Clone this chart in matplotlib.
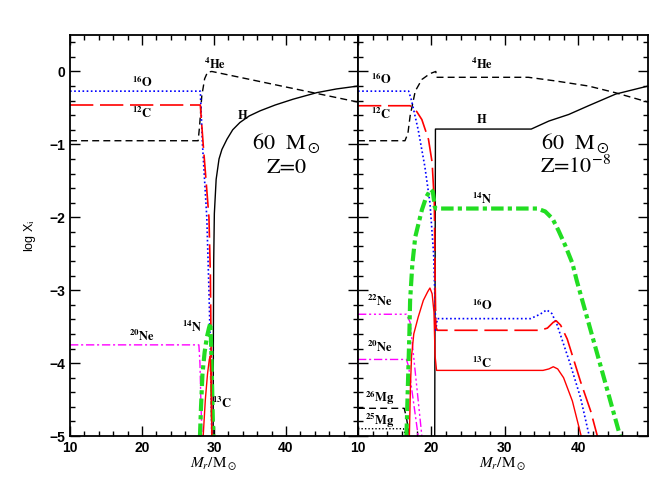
import numpy as np
import matplotlib
matplotlib.use('Agg')
import matplotlib.pyplot as plt
from matplotlib.ticker import MultipleLocator

plt.rcParams['mathtext.fontset'] = 'stix'

# ---- left panel: 60 Msun, Z=0 ----
L_he_x = [10, 27.8, 28.0, 28.3, 28.7, 29.1, 29.7, 50]
L_he_y = [-0.95, -0.95, -0.75, -0.34, -0.10, -0.01, 0.0, -0.42]
L_h_x = [29.88, 29.92, 29.96, 30.05, 30.3, 30.7, 31.1, 31.8, 32.6, 33.6, 34.9, 36.4, 38.5, 41.0, 44.3, 47.0, 50]
L_h_y = [-5.0, -3.5, -2.6, -1.95, -1.48, -1.2, -1.07, -0.93, -0.80, -0.70, -0.61, -0.54, -0.46, -0.38, -0.29, -0.24, -0.20]
L_o16_x = [10, 28.1, 28.4, 29.0, 29.3, 29.5, 29.7]
L_o16_y = [-0.27, -0.27, -1.0, -2.0, -3.0, -3.8, -5.0]
L_c12_x = [10, 28.1, 28.5, 29.3, 29.5, 29.6, 29.7]
L_c12_y = [-0.46, -0.46, -1.0, -2.0, -2.8, -3.8, -5.0]
L_c13_x = [28.5, 28.8, 29.1, 29.35, 29.5, 29.6, 29.7]
L_c13_y = [-5.0, -4.5, -4.15, -3.95, -3.9, -4.3, -5.0]
L_n14_x = [28.05, 28.2, 28.4, 28.7, 29.0, 29.3, 29.5, 29.65, 29.8, 29.9]
L_n14_y = [-5.0, -4.6, -4.15, -3.85, -3.65, -3.52, -3.45, -3.9, -4.6, -5.0]
L_ne20_x = [10, 27.9, 28.05, 28.2, 28.35]
L_ne20_y = [-3.75, -3.75, -4.0, -4.6, -5.0]

# ---- right panel: 60 Msun, Z=1e-8 ----
R_he_x = [10, 16.4, 16.8, 17.1, 17.8, 18.7, 19.8, 20.6, 20.7, 33.2, 36.9, 41.4, 45.0, 49.5]
R_he_y = [-0.95, -0.95, -0.85, -0.61, -0.27, -0.11, -0.03, 0.0, -0.08, -0.08, -0.13, -0.20, -0.29, -0.42]
R_h_x = [20.45, 20.55, 33.6, 36.0, 38.7, 41.4, 45.1, 49.5]
R_h_y = [-5.0, -0.79, -0.79, -0.68, -0.59, -0.47, -0.31, -0.20]
R_o16_x = [10, 16.9, 17.3, 18.2, 19.1, 19.8, 20.3, 20.45, 20.6, 20.8, 33.5, 34.8, 35.7, 36.4, 37.1, 38.9, 40.3, 41.5]
R_o16_y = [-0.27, -0.27, -0.40, -0.80, -1.30, -1.80, -2.50, -3.0, -3.55, -3.39, -3.39, -3.33, -3.27, -3.32, -3.47, -4.01, -4.47, -5.0]
R_c12_x = [10, 17.1, 18.0, 18.7, 19.6, 20.1, 20.4, 20.5, 20.6, 20.8, 34.8, 35.8, 36.6, 37.0, 37.6, 38.5, 40.3, 41.7, 42.6]
R_c12_y = [-0.47, -0.47, -0.55, -0.66, -0.93, -1.25, -1.8, -2.8, -3.5, -3.55, -3.55, -3.52, -3.44, -3.42, -3.48, -3.67, -4.25, -4.66, -5.0]
R_c13_x = [17.0, 17.15, 17.3, 17.6, 18.2, 18.9, 19.5, 19.8, 20.1, 20.35, 20.5, 20.7, 35.2, 36.0, 36.6, 37.2, 38.0, 39.2, 39.9, 40.4]
R_c13_y = [-5.0, -4.3, -3.9, -3.6, -3.37, -3.14, -3.02, -2.97, -3.05, -3.3, -3.9, -4.1, -4.1, -4.08, -4.05, -4.08, -4.2, -4.52, -4.8, -5.0]
R_n14_x = [16.6, 16.8, 17.0, 17.1, 17.4, 17.8, 18.7, 19.3, 19.9, 20.2, 20.45, 20.6, 34.4, 35.5, 36.5, 37.3, 38.2, 39.2, 39.8, 42.8, 45.7]
R_n14_y = [-5.0, -4.3, -3.6, -3.14, -2.65, -2.27, -1.9, -1.72, -1.62, -1.65, -1.85, -1.88, -1.88, -1.92, -2.02, -2.18, -2.38, -2.63, -2.87, -3.95, -5.0]
R_ne22_x = [10, 16.6, 17.1, 18.7]
R_ne22_y = [-3.33, -3.33, -3.44, -5.0]
R_ne20_x = [10, 16.6, 16.9, 18.2]
R_ne20_y = [-3.95, -3.95, -4.05, -5.0]
R_mg26_x = [10, 16.3, 16.6, 17.0]
R_mg26_y = [-4.62, -4.62, -4.75, -5.0]
R_mg25_x = [10, 16.2, 16.5]
R_mg25_y = [-4.9, -4.9, -5.0]

green = '#22dd22'

fig = plt.figure(figsize=(6.56, 4.91), dpi=100)
axL = fig.add_axes([0.1067, 0.112, 0.439, 0.8167])
axR = fig.add_axes([0.5457, 0.112, 0.4421, 0.8167])

def style(ax, xmax, ylabels):
    ax.set_xlim(10, xmax)
    ax.set_ylim(-5, 0.5)
    ax.xaxis.set_major_locator(MultipleLocator(10))
    ax.xaxis.set_minor_locator(MultipleLocator(2))
    ax.yaxis.set_major_locator(MultipleLocator(1))
    ax.yaxis.set_minor_locator(MultipleLocator(0.2))
    ax.tick_params(which='both', direction='in', top=True, right=True, width=1.0)
    ax.tick_params(which='major', length=7)
    ax.tick_params(which='minor', length=3.5)
    for s in ax.spines.values():
        s.set_linewidth(1.3)
    ax.set_xticks([10, 20, 30, 40])
    for lab in ax.get_xticklabels() + ax.get_yticklabels():
        lab.set_fontfamily('Liberation Sans')
        lab.set_fontweight('bold')
        lab.set_fontsize(10)
    if not ylabels:
        ax.set_yticklabels([])
    ax.set_xlabel(r'$M_r/\mathrm{M}_\odot$', fontsize=11, labelpad=1)

def lab(ax, x, y, s):
    ax.text(x, y, s, fontsize=9, ha='center', va='center')

# left
axL.plot(L_he_x, L_he_y, color='k', lw=1.0, dashes=(5, 3))
axL.plot(L_h_x, L_h_y, color='k', lw=1.0)
axL.plot(L_o16_x, L_o16_y, color='#0000ff', lw=1.2, dashes=(1, 1.5))
axL.plot(L_c12_x, L_c12_y, color='#ff0000', lw=1.2, dashes=(14, 4))
axL.plot(L_ne20_x, L_ne20_y, color='#ff00ff', lw=1.0, dashes=(6, 2, 1.5, 2))
axL.plot(L_n14_x, L_n14_y, color=green, lw=3, dashes=(3, 1, 1, 1))
axL.plot(L_c13_x, L_c13_y, color='#ff0000', lw=1.0)
style(axL, 50, True)
axL.set_ylabel(r'log X$_{\rm i}$', fontfamily='Liberation Sans', fontsize=9, labelpad=8)
lab(axL, 20.0, -0.15, r'$^{\mathbf{16}}\mathbf{O}$')
lab(axL, 20.0, -0.57, r'$^{\mathbf{12}}\mathbf{C}$')
lab(axL, 30.1, 0.1, r'$^{\mathbf{4}}\mathbf{He}$')
lab(axL, 34.0, -0.61, r'$\mathbf{H}$')
lab(axL, 20.0, -3.64, r'$^{\mathbf{20}}\mathbf{Ne}$')
lab(axL, 26.9, -3.51, r'$^{\mathbf{14}}\mathbf{N}$')
lab(axL, 31.1, -4.55, r'$^{\mathbf{13}}\mathbf{C}$')
axL.text(40.1, -0.98, r'60  M$_\odot$', fontfamily='STIXGeneral', fontsize=16, ha='center', va='center')
axL.text(40.1, -1.33, 'Z=0', fontfamily='STIXGeneral', fontsize=16, ha='center', va='center')

# right
axR.plot(R_he_x, R_he_y, color='k', lw=1.0, dashes=(5, 3))
axR.plot(R_h_x, R_h_y, color='k', lw=1.0)
axR.plot(R_o16_x, R_o16_y, color='#0000ff', lw=1.2, dashes=(1, 1.5))
axR.plot(R_c12_x, R_c12_y, color='#ff0000', lw=1.2, dashes=(14, 4))
axR.plot(R_ne22_x, R_ne22_y, color='#ff00ff', lw=1.0, dashes=(6, 2, 1.5, 2, 1.5, 2, 1.5, 2))
axR.plot(R_ne20_x, R_ne20_y, color='#ff00ff', lw=1.0, dashes=(6, 2, 1.5, 2))
axR.plot(R_mg26_x, R_mg26_y, color='k', lw=1.0, dashes=(5, 3))
axR.plot(R_mg25_x, R_mg25_y, color='k', lw=1.0, dashes=(1, 1.5))
axR.plot(R_n14_x, R_n14_y, color=green, lw=3, dashes=(3, 1, 1, 1))
axR.plot(R_c13_x, R_c13_y, color='#ff0000', lw=1.0)
style(axR, 49.5, False)
lab(axR, 13.2, -0.10, r'$^{\mathbf{16}}\mathbf{O}$')
lab(axR, 13.2, -0.59, r'$^{\mathbf{12}}\mathbf{C}$')
lab(axR, 26.9, 0.10, r'$^{\mathbf{4}}\mathbf{He}$')
lab(axR, 26.9, -0.66, r'$\mathbf{H}$')
lab(axR, 26.9, -1.76, r'$^{\mathbf{14}}\mathbf{N}$')
lab(axR, 26.9, -3.20, r'$^{\mathbf{16}}\mathbf{O}$')
lab(axR, 26.9, -4.00, r'$^{\mathbf{13}}\mathbf{C}$')
lab(axR, 13.0, -3.16, r'$^{\mathbf{22}}\mathbf{Ne}$')
lab(axR, 13.0, -3.79, r'$^{\mathbf{20}}\mathbf{Ne}$')
lab(axR, 13.0, -4.47, r'$^{\mathbf{26}}\mathbf{Mg}$')
lab(axR, 13.0, -4.80, r'$^{\mathbf{25}}\mathbf{Mg}$')
axR.text(39.6, -0.98, r'60  M$_\odot$', fontfamily='STIXGeneral', fontsize=16, ha='center', va='center')
axR.text(39.6, -1.30, r'Z=10$^{-8}$', fontfamily='STIXGeneral', fontsize=16, ha='center', va='center')

fig.savefig('out.png', dpi=100)
